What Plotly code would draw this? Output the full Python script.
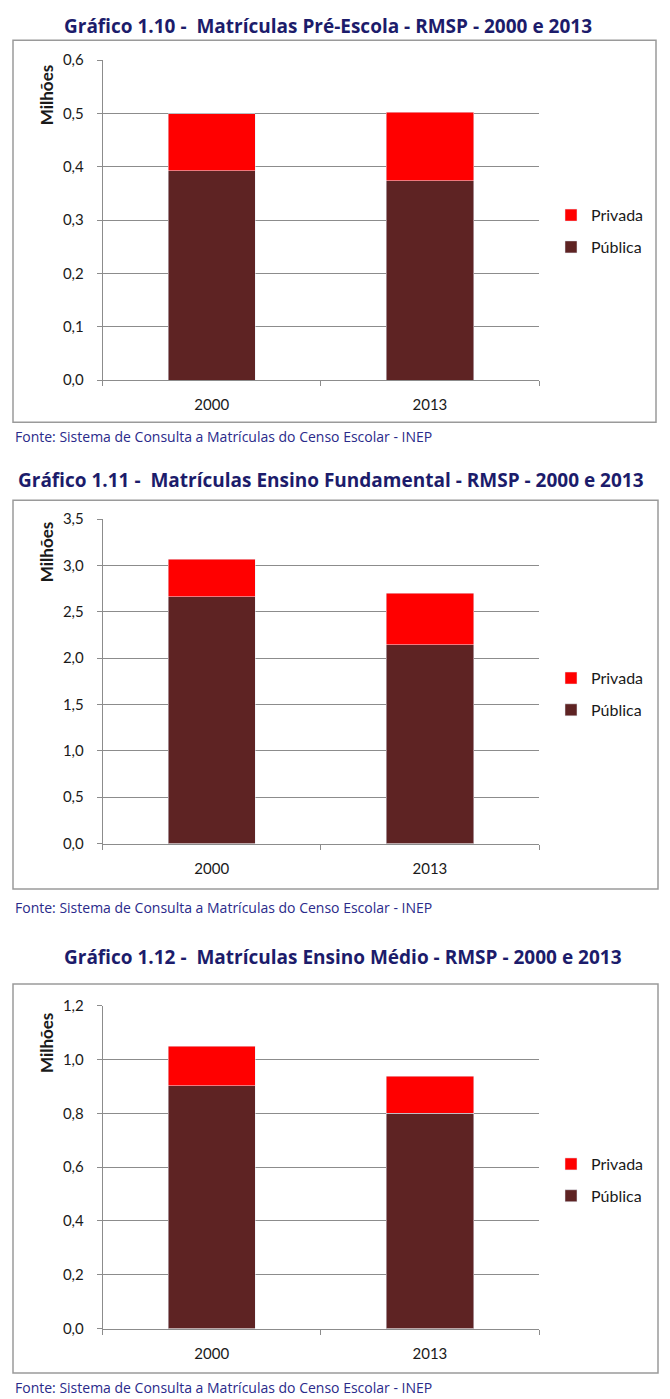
import plotly.graph_objects as go

# a foto da página desloca a figura (8px dos lados, 18px em cima) e a comprime um pouco na vertical
W, H = 654, 1399
OFF_X, OFF_Y = 8, 18
ESC_Y = 1399 / 1417

anos = ["2000", "2013"]

# valores em milhões de matrículas
publica_pre = [0.393, 0.374]
privada_pre = [0.107, 0.128]
publica_fund = [2.665, 2.147]
privada_fund = [0.405, 0.553]
publica_medio = [0.903, 0.800]
privada_medio = [0.146, 0.138]

titulos = [
  "Gráfico 1.10 -  Matrículas Pré-Escola - RMSP - 2000 e 2013",
  "Gráfico 1.11 -  Matrículas Ensino Fundamental - RMSP - 2000 e 2013",
  "Gráfico 1.12 -  Matrículas Ensino Médio - RMSP - 2000 e 2013",
]
fonte = "Fonte: Sistema de Consulta a Matrículas do Censo Escolar - INEP"

ticks_y = [
  [0, 0.1, 0.2, 0.3, 0.4, 0.5, 0.6],
  [0, 0.5, 1.0, 1.5, 2.0, 2.5, 3.0, 3.5],
  [0, 0.2, 0.4, 0.6, 0.8, 1.0, 1.2],
]

COR_PUB = "#5E2323"
COR_PRI = "#FF0000"
AZUL = "#1C1C6B"
CINZA = "#8C8C8C"


def py(p):
  # pixel da imagem final (de cima) -> coordenada paper
  return 1 - (p / ESC_Y - OFF_Y) / H


def px_(p):
  return (p - OFF_X) / W


# geometria de cada painel (em pixels da imagem)
paineis = [
  dict(top=60, bottom=380, box=(13, 40, 656, 422), titulo_y=26, titulo_x=328, fonte_y=436, milhoes_y=95, leg_y=198),
  dict(top=519, bottom=843.5, box=(13, 500, 658, 889), titulo_y=480, titulo_x=331, fonte_y=907, milhoes_y=552, leg_y=661),
  dict(top=1005.7, bottom=1328.5, box=(13, 984, 658, 1373), titulo_y=957, titulo_x=343, fonte_y=1387, milhoes_y=1043, leg_y=1147),
]

dados = [
  (publica_pre, privada_pre),
  (publica_fund, privada_fund),
  (publica_medio, privada_medio),
]

fig = go.Figure()
shapes = []
annotations = []
layout = {}

for i, (pan, (pub, pri)) in enumerate(zip(paineis, dados)):
  n = "" if i == 0 else str(i + 1)
  leg = "legend" + n
  fig.add_trace(go.Bar(x=anos, y=pub, name="Pública", marker_color=COR_PUB,
                       xaxis="x" + n, yaxis="y" + n, legend=leg,
                       legendgroup="pub" + n, legendrank=2))
  fig.add_trace(go.Bar(x=anos, y=pri, name="Privada", marker_color=COR_PRI,
                       xaxis="x" + n, yaxis="y" + n, legend=leg,
                       legendgroup="pri" + n, legendrank=1))

  tv = ticks_y[i]
  layout["xaxis" + n] = dict(
    domain=[px_(102.7), px_(539)], anchor="y" + n,
    showline=True, linecolor=CINZA, linewidth=1,
    ticks="outside", tickson="boundaries", ticklen=5, tickcolor=CINZA,
    tickfont=dict(family="Lato", size=15, color="#1a1a1a"),
    ticklabelstandoff=11,
  )
  layout["yaxis" + n] = dict(
    domain=[py(pan["bottom"]), py(pan["top"])], anchor="x" + n,
    range=[0, tv[-1]], tickvals=tv,
    ticktext=[f"{v:.1f}".replace(".", ",") for v in tv],
    showline=True, linecolor=CINZA, linewidth=1,
    ticks="outside", ticklen=5, tickcolor=CINZA,
    showgrid=True, gridcolor=CINZA, gridwidth=1,
    zeroline=False,
    tickfont=dict(family="Lato", size=15, color="#1a1a1a"),
    ticklabelstandoff=10,
  )
  layout[leg] = dict(
    x=px_(551), y=py(pan["leg_y"]), xanchor="left", yanchor="top",
    traceorder="grouped", tracegroupgap=8,
    font=dict(family="Lato", size=16, color="#1a1a1a"),
    bgcolor="rgba(0,0,0,0)",
  )

  x0, y0, x1, y1 = pan["box"]
  shapes.append(dict(type="rect", xref="paper", yref="paper",
                     x0=px_(x0), x1=px_(x1), y0=py(y0), y1=py(y1),
                     line=dict(color="#9a9a9a", width=1.5)))

  annotations.append(dict(text="<b>" + titulos[i] + "</b>", xref="paper", yref="paper",
                          x=px_(pan["titulo_x"]), y=py(pan["titulo_y"]), showarrow=False,
                          xanchor="center", yanchor="middle",
                          font=dict(family="Open Sans", size=19, color=AZUL)))
  annotations.append(dict(text="<b>Milhões</b>", xref="paper", yref="paper",
                          x=px_(46), y=py(pan["milhoes_y"]), showarrow=False, textangle=-90,
                          xanchor="center", yanchor="middle",
                          font=dict(family="Lato", size=17, color="#1a1a1a")))
  annotations.append(dict(text=fonte, xref="paper", yref="paper",
                          x=px_(13), y=py(pan["fonte_y"]), showarrow=False,
                          xanchor="left", yanchor="middle",
                          font=dict(family="Open Sans", size=14, color="#2a2a8a")))

fig.update_layout(
  width=W, height=H,
  barmode="stack", bargap=0.6,
  margin=dict(l=0, r=0, t=0, b=0),
  paper_bgcolor="white", plot_bgcolor="white",
  showlegend=True,
  shapes=shapes, annotations=annotations,
  **layout,
)

fig.write_html("out.html")
